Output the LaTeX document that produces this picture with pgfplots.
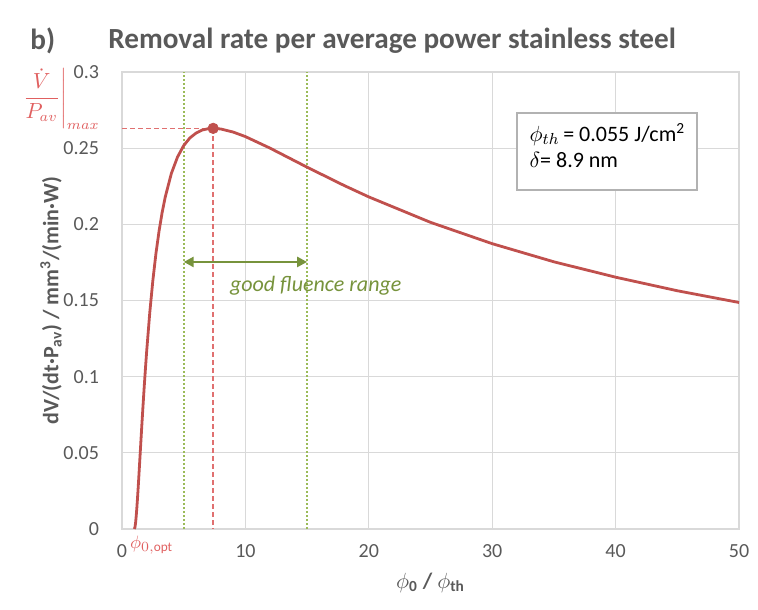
\documentclass[border=0pt]{standalone}
\usepackage{pgfplots}
\pgfplotsset{compat=1.18}
\usepackage{fontspec}
\setmainfont{Carlito}
\usetikzlibrary{arrows.meta}

\definecolor{txtgray}{HTML}{595959}
\definecolor{gridgray}{HTML}{D9D9D9}
\definecolor{curvered}{HTML}{C0504D}
\definecolor{lightred}{HTML}{E06060}
\definecolor{dashred}{HTML}{E07070}
\definecolor{dotgreen}{HTML}{9BBB59}
\definecolor{arrgreen}{HTML}{77933C}

\begin{document}
\begin{tikzpicture}
  \path[use as bounding box] (0,0) rectangle (379pt,304.5pt);
  % title
  \node[anchor=west, font=\fontsize{14.6}{17}\selectfont\bfseries, text=txtgray, inner sep=0pt] at (15pt,284pt) {b)};
  \node[anchor=west, font=\fontsize{14.6}{17}\selectfont\bfseries, text=txtgray, inner sep=0pt] at (54pt,284pt) {Removal rate per average power stainless steel};

  \begin{axis}[
      at={(61pt,40pt)}, anchor=south west,
      scale only axis,
      width=308.5pt, height=228.5pt,
      xmin=0, xmax=50, ymin=0, ymax=0.3,
      xtick={0,10,...,50},
      ytick={0,0.05,0.1,0.15,0.2,0.25,0.3},
      yticklabel style={/pgf/number format/fixed, /pgf/number format/precision=2, xshift=-8pt},
      xticklabel style={yshift=-4pt},
      /pgf/number format/assume math mode=true,
      tick style={draw=none},
      ticklabel style={font=\fontsize{10}{12}\selectfont, text=txtgray},
      xmajorgrids, ymajorgrids,
      grid style={gridgray, line width=0.6pt},
      axis line style={gridgray, line width=0.6pt},
      xlabel={\bfseries $\phi$\textsubscript{0} / $\phi$\textsubscript{th}},
      ylabel={\bfseries dV/(dt·P\textsubscript{av}) / mm\textsuperscript{3}/(min·W)},
      label style={font=\fontsize{11}{13}\selectfont, text=txtgray},
      xlabel style={yshift=-1pt},
      ylabel style={at={(axis description cs:-0.115,0.5)}, anchor=center},
      clip=false,
    ]

    % guide lines
    \addplot[dotgreen, densely dotted, line width=1pt] coordinates {(5,0) (5,0.3)};
    \addplot[dotgreen, densely dotted, line width=1pt] coordinates {(15,0) (15,0.3)};
    \addplot[dashred, line width=0.8pt, dash pattern=on 2.4pt off 1.6pt] coordinates {(0,0.2630) (7.389,0.2630)};
    \addplot[dashred, line width=0.8pt, dash pattern=on 2.4pt off 1.6pt] coordinates {(7.389,0.2630) (7.389,0)};

    % removal rate per power
    \addplot[curvered, line width=1.4pt] coordinates {
        (1,0) (1.05,0.0011) (1.1,0.0040) (1.15,0.0083) (1.2,0.0135) (1.25,0.0194)
        (1.3,0.0257) (1.35,0.0324) (1.4,0.0393) (1.45,0.0463) (1.5,0.0532)
        (1.6,0.0671) (1.7,0.0805) (1.8,0.0933) (1.9,0.1053) (2,0.1167)
        (2.25,0.1420) (2.5,0.1631) (2.75,0.1808) (3,0.1954) (3.25,0.2077)
        (3.5,0.2178) (4,0.2334) (4.5,0.2442) (5,0.2517) (5.5,0.2567) (6,0.2599)
        (6.5,0.2619) (7,0.2628) (7.389,0.2630) (8,0.2626) (9,0.2606) (10,0.2576)
        (12,0.2500) (15,0.2375) (18,0.2255) (20,0.2180) (25,0.2013) (30,0.1873)
        (35,0.1754) (40,0.1653) (45,0.1564) (50,0.1487)
      };
    \addplot[only marks, mark=*, mark size=2.6pt, curvered] coordinates {(7.389,0.2630)};

    % good fluence range
    \addplot[arrgreen, line width=1.4pt, {Triangle[length=5pt,width=5pt]}-{Triangle[length=5pt,width=5pt]}]
      coordinates {(5,0.1753) (15,0.1753)};
    \node[text=arrgreen, font=\fontsize{11}{13}\selectfont\itshape] at (axis cs:15.7,0.160) {good fluence range};

    % parameter box
    \draw[gray!60, line width=0.7pt, fill=white] (axis cs:32.0,0.2731) rectangle (axis cs:46.6,0.2225);
    \node[anchor=west, font=\fontsize{11}{13}\selectfont, inner sep=0pt] at (axis cs:33.0,0.2590)
      {$\phi_{th}$\,= 0.055 J/cm\textsuperscript{2}};
    \node[anchor=west, font=\fontsize{11}{13}\selectfont, inner sep=0pt] at (axis cs:33.0,0.2420)
      {$\delta$= 8.9 nm};

    % red annotations
    \node[text=lightred, font=\fontsize{10.5}{12}\selectfont, inner sep=0pt] at (axis cs:-5.0,0.2825)
      {$\displaystyle\left.\frac{\dot V}{P_{av}}\right|_{max}$};
    \node[text=lightred, font=\fontsize{9.5}{11}\selectfont, inner sep=0pt] at (axis cs:2.4,-0.0105)
      {$\phi_{0,\mathrm{opt}}$};
  \end{axis}
\end{tikzpicture}
\end{document}
